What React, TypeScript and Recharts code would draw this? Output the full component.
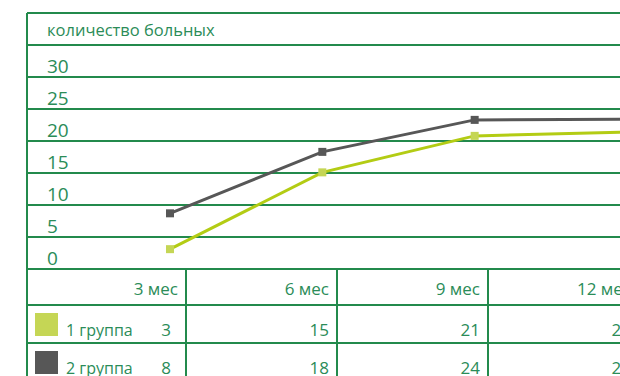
import React from 'react';
import { LineChart, Line, XAxis, YAxis, CartesianGrid } from 'recharts';

const categories = ['3 мес', '6 мес', '9 мес', '12 мес'];
const seriesNames = ['1 группа', '2 группа'];
const group1Values = [3.1, 15.1, 20.8, 21.4];
const group2Values = [8.7, 18.3, 23.3, 23.4];
const group1Labels = ['3', '15', '21', '22'];
const group2Labels = ['8', '18', '24', '24'];
const yTicks = [0, 5, 10, 15, 20, 25, 30, 35, 40];
const axisTitle = 'количество больных';

const FONT = '"Open Sans", sans-serif';
const TEXT = '#2b8c58';
const GRID = '#238a4c';
const C1_LINE = '#b3cc14';
const C1_MARK = '#c5d655';
const C2 = '#575757';

const data = categories.map((c, i) => ({ cat: c, g1: group1Values[i], g2: group2Values[i] }));

const colEdges = [27, 186, 337, 488, 639];
const rowEdges = [269, 305, 343, 381];

const square = (color: string) => (props: any) => {
  const { cx, cy, index } = props;
  if (cx == null || cy == null) return <g key={`d${index}`} />;
  return <rect key={`d${index}`} x={cx - 4} y={cy - 4} width={8} height={8} fill={color} />;
};

const renderYTick = (props: any) => {
  const { y, payload, index } = props;
  const v = payload.value;
  if (v === 40) return <g key={`t${index}`} />;
  if (v === 35) {
    return (
      <text key={`t${index}`} x={47} y={y - 9} fill={TEXT} fontSize={16.5} fontFamily={FONT}>{axisTitle}</text>
    );
  }
  return (
    <text key={`t${index}`} x={47} y={y - 4} fill={TEXT} fontSize={19} fontFamily={FONT}>{String(v)}</text>
  );
};

function Table() {
  const rows = [
    { name: seriesNames[0], labels: group1Labels, color: C1_MARK },
    { name: seriesNames[1], labels: group2Labels, color: C2 },
  ];
  return (
    <svg width={620} height={376} style={{ position: 'absolute', left: 0, top: 0 }}>
      <line x1={27} y1={13} x2={27} y2={376} stroke={GRID} strokeWidth={2} />
      {rowEdges.slice(0, 3).map((y) => (
        <line key={`h${y}`} x1={27} y1={y} x2={620} y2={y} stroke={GRID} strokeWidth={2} />
      ))}
      {colEdges.slice(1).map((x) => (
        <line key={`v${x}`} x1={x} y1={269} x2={x} y2={376} stroke={GRID} strokeWidth={2} />
      ))}
      {categories.map((c, i) => (
        <text key={`c${i}`} x={colEdges[i + 1] - 8} y={295} textAnchor="end" fill={TEXT} fontSize={17} fontFamily={FONT}>{c}</text>
      ))}
      {rows.map((r, ri) => {
        const top = rowEdges[ri + 1];
        const base = top + 31;
        return (
          <g key={`r${ri}`}>
            <rect x={35} y={top + 8} width={23} height={23} fill={r.color} />
            <text x={66} y={base} fill={TEXT} fontSize={16} fontFamily={FONT}>{r.name}</text>
            {r.labels.map((l, i) => (
              <text key={`l${i}`} x={i === 0 ? 171 : colEdges[i + 1] - 8} y={base} textAnchor="end" fill={TEXT} fontSize={17} fontFamily={FONT}>{l}</text>
            ))}
          </g>
        );
      })}
    </svg>
  );
}

export default function App() {
  return (
    <div style={{ position: 'absolute', left: 0, top: 0, width: 620, height: 376, overflow: 'hidden', background: '#fff' }}>
      <div style={{ position: 'absolute', left: 0, top: 0 }}>
        <LineChart width={800} height={280} data={data} margin={{ top: 13, right: 0, bottom: 11, left: 26 }}>
          <CartesianGrid horizontal vertical={false} stroke={GRID} strokeWidth={2} />
          <XAxis dataKey="cat" hide padding={{ left: 143, right: 173 }} />
          <YAxis domain={[0, 40]} ticks={yTicks} width={1} axisLine={false} tickLine={false} tick={renderYTick} interval={0} />
          <Line dataKey="g2" stroke={C2} strokeWidth={3} dot={square(C2)} isAnimationActive={false} />
          <Line dataKey="g1" stroke={C1_LINE} strokeWidth={3} dot={square(C1_MARK)} isAnimationActive={false} />
        </LineChart>
      </div>
      <Table />
    </div>
  );
}
